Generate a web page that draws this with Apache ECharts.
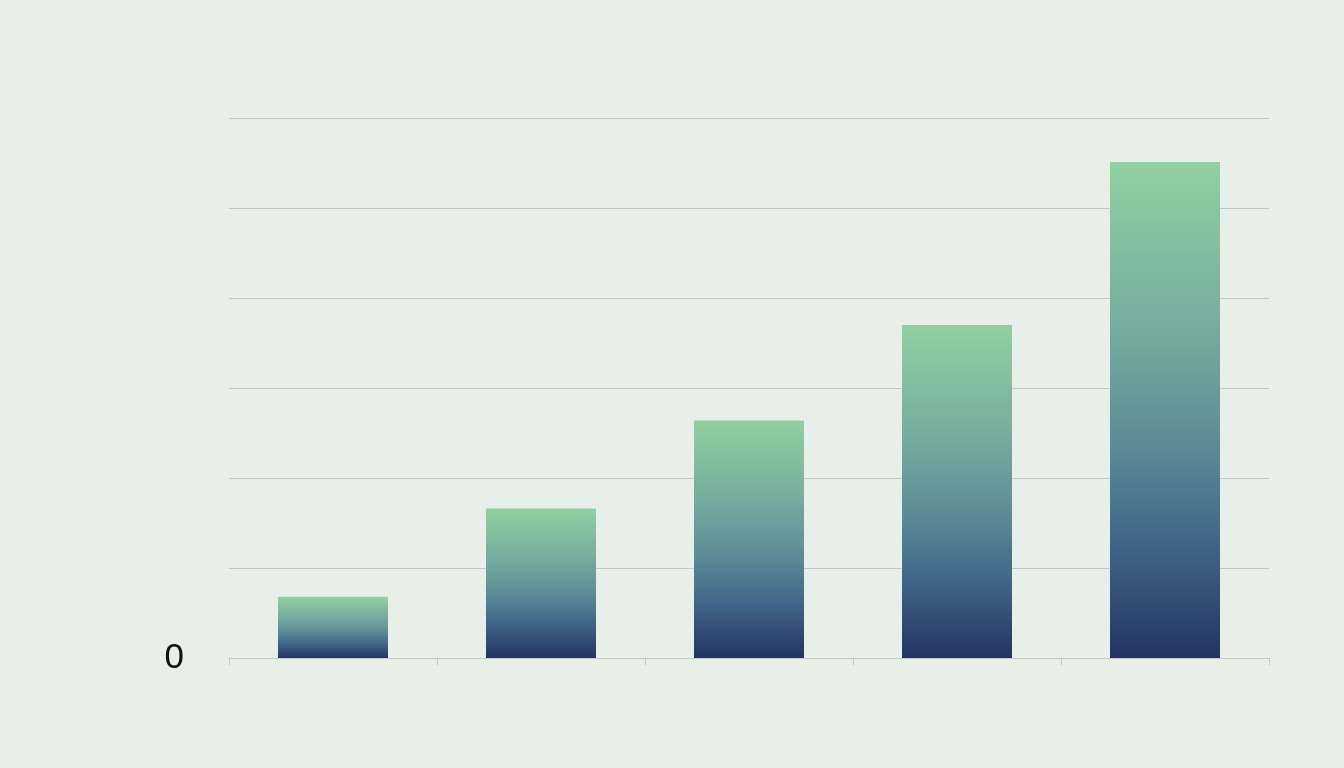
<!DOCTYPE html>
<html>
<head>
<meta charset="utf-8">
<script src="https://cdn.jsdelivr.net/npm/echarts@6/dist/echarts.min.js"></script>
<style>
html,body{margin:0;padding:0;background:#e8eee8;}
#chart{width:1344px;height:768px;}
</style>
</head>
<body>
<div id="chart"></div>
<script>
const categories = ['A', 'B', 'C', 'D', 'E'];
const values = [6.8, 16.6, 26.4, 37.0, 55.1];
const yMin = 0, yMax = 60, yInterval = 10;
const yTickLabels = ['0'];

const chart = echarts.init(document.getElementById('chart'));
chart.setOption({
  backgroundColor: '#e8eee8',
  animation: false,
  grid: { left: 229, right: 75, top: 118, bottom: 110 },
  xAxis: {
    type: 'category',
    data: categories,
    axisLine: { show: true, lineStyle: { color: '#c4c8c4', width: 1.2 } },
    axisTick: { show: true, length: 7, lineStyle: { color: '#c4c8c4' } },
    axisLabel: { show: false }
  },
  yAxis: {
    type: 'value',
    min: yMin, max: yMax, interval: yInterval,
    axisLine: { show: false },
    axisTick: { show: false },
    splitLine: { lineStyle: { color: '#c4c8c4', width: 1.2 } },
    axisLabel: {
      margin: 45,
      fontSize: 35,
      color: '#111',
      fontFamily: 'Liberation Sans',
      formatter: v => (yTickLabels.indexOf(String(v)) >= 0 ? String(v) : '')
    }
  },
  series: [{
    type: 'bar',
    data: values,
    barWidth: 110,
    itemStyle: {
      color: new echarts.graphic.LinearGradient(0, 0, 0, 1, [
        { offset: 0, color: '#90d0a1' },
        { offset: 0.35, color: '#74aa9e' },
        { offset: 0.58, color: '#5a8a96' },
        { offset: 0.78, color: '#3f6388' },
        { offset: 1, color: '#233462' }
      ])
    }
  }]
});
</script>
</body>
</html>
